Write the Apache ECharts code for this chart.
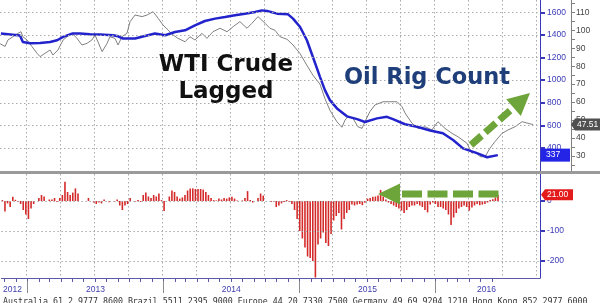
<!DOCTYPE html>
<html><head><meta charset="utf-8">
<script src="https://cdn.jsdelivr.net/npm/echarts@6/dist/echarts.min.js"></script>
<style>html,body{margin:0;padding:0;background:#fff;overflow:hidden}#c{width:600px;height:303px}</style>
</head><body><div id="c"></div><script>
// x positions are in weeks since 1 Jan 2013
const rigWeeks = [-9.6,-2.3,-1.2,1.5,5.4,9.2,11.9,14.2,17.6,20.7,24.5,28.3,33.3,35.2,37.1,41.7,49.3,53.2,57,60.8,64.6,68.4,72.3,76.1,79.9,83.7,87.6,90.2,92.2,96,100.2,102.1,104.8,107.4,109.7,112.4,114.3,116.2,118.9,122.7,126.6,129.6,134.2,138,140.3,144.9,149.5,154.5,159.4,163.3,167.1,172.4,176.3,180.4];
const rigCount = [1413,1395,1338,1326,1329,1338,1353,1382,1412,1412,1406,1403,1397,1388,1368,1368,1412,1397,1426,1441,1485,1523,1544,1558,1573,1588,1602,1617,1611,1588,1582,1544,1470,1353,1205,1029,912,823,750,680,655,630,662,676,655,610,588,555,530,470,397,355,318,337];

const wtiWeeks = [-9.9,-8,-6.9,-5,-3.1,-1.9,-1.2,0.4,2.3,4.2,5.4,7.3,9.2,10.3,12.2,14.2,15.7,17.6,19.5,21.4,23.3,25.2,26.4,27.5,29.1,31,32.1,34,35.2,36.7,38.6,39.8,41.7,44.4,46.3,48.6,50.5,52.4,54.3,56.2,58.1,60.8,62.7,64.6,67.3,69.2,71.5,74.2,76.9,79.2,81.8,84.5,86.4,88.7,91.4,93.3,95.2,97.1,99.8,102.1,104.8,107.4,109.7,112.4,114.3,116.2,118.9,120.8,122,123.1,125,126.9,128.5,129.6,131.5,133.4,136.5,139.2,141.9,143.8,144.9,147.6,149.9,152.6,155.2,157.5,160.2,162.9,165.2,168.6,170.5,171.7,173.6,175.5,177.4,179.3,182,184.3,187,189.7,191.9,193.9];
const wtiLagged = [92.5,91,94.6,96.4,98.3,99.2,96.4,94.6,90.9,87.2,85.3,87.2,89,86.2,89,94.6,96.4,98.3,95.5,91.8,92.7,94.6,97.4,93.6,88.1,92.7,96.4,95.5,91.8,96.4,98.3,104.8,108.5,107.6,108.5,110.3,106.7,102.9,100.2,97.4,95.5,93.6,96.4,94.6,98.3,95.5,99.2,101.1,99.2,102,104.8,101.1,103.9,107.6,103.9,101.1,100,96.4,95,91.8,87,80.5,75,70,62,55.5,49,46,50,51.9,51,46.3,45.4,49.1,54.7,58.4,60.2,60.2,60.2,57.4,54,48.2,45.4,46.3,44.5,49.1,45.4,42.6,40.7,37.1,31.5,32.4,29.6,29.6,34.3,38,42.6,44.5,46.3,49.1,48.2,47.51];

// weekly change of rig count, first bar at changeFirstWeek
const changeFirstWeek = -9.57;
const rigChange = [
 3,-35,-8,-20,14,4,-3,-10,-30,-45,
 -60,-25,-10,0,10,20,15,0,5,5,
 10,-3,10,20,64,30,20,28,42,25,
 0,0,0,10,0,-5,-10,-5,-8,5,
 0,-4,0,-3,5,-15,-30,-15,-10,10,
 0,-2,3,-3,20,28,15,10,20,15,
 25,3,-33,0,15,35,30,15,8,12,
 20,35,42,42,40,40,40,38,30,20,
 10,3,2,8,5,10,8,12,14,8,
 2,0,2,10,33,3,-5,0,10,25,
 18,0,0,-3,-2,-20,-15,-8,-3,3,
 -3,-10,-30,-60,-100,-125,-155,-185,-190,-200,
 -255,-145,-125,-105,-140,-150,-110,-65,-50,-40,
 -95,-60,-40,-30,-12,-15,-12,-10,-14,-6,
 8,10,14,15,18,37,15,5,-5,-10,
 -15,-20,-25,-32,-40,-30,-20,-15,-15,-10,
 -15,-20,-30,-38,-12,-5,-10,-20,-20,-25,
 -30,-45,-80,-55,-40,-25,-20,-15,-20,-32,
 -22,-15,-10,-14,-12,-10,-5,3,6,12,21];

const rigTicks = [400, 600, 800, 1000, 1200, 1400, 1600];
const wtiTicks = [30, 40, 50, 60, 70, 80, 90, 100, 110];
const changeTicks = [-200, -100, 0];
const yearTickWeeks = [0, 52.14, 104.29, 156.43];
const yearLabelWeeks = [-5.7, 26.1, 78.2, 130.4, 176];
const yearLabels = ['2012','2013','2014','2015','2016'];
const footer = 'Australia 61 2 9777 8600 Brazil 5511 2395 9000 Europe 44 20 7330 7500 Germany 49 69 9204 1210 Hong Kong 852 2977 6000';

// axis extents (weeks since 1 Jan 2013, 13-week quarters)
const X_MIN = -9.94, X_MAX = 196.53;
const quarterWeeks = []; for (let w = 0; w < X_MAX - 1; w += 13) quarterWeeks.push(w);
const monthWeeks = [];
for (let m = -2; m < 42; m++) { const d = Date.UTC(2013, m, 1); const w = (d - Date.UTC(2013,0,1)) / 864e5 / 7; if (w > X_MIN && w < X_MAX) monthWeeks.push(+w.toFixed(3)); }
const wtiMinorTicks = []; for (let v = 25; v <= 115; v += 5) wtiMinorTicks.push(v);

const BLUE = '#2323cc', AXISBLUE = '#3a3ab8', GREEN = '#6ea53a';
const dotted = {color:'#aaaaaa', type:[1.5,2.5], width:1};
const FONT = '"Liberation Sans", Arial, sans-serif';

const chart = echarts.init(document.getElementById('c'), null, {renderer:'canvas'});

const hLines = (vals) => ({
  silent:true, symbol:['none','none'], label:{show:false}, lineStyle:dotted, animation:false,
  data: vals.map(v => ({yAxis:v}))
});

const option = {
  animation:false,
  textStyle:{fontFamily:FONT},
  grid:[
    {left:0, right:60, top:0, height:171},
    {left:0, right:60, top:174, height:104}
  ],
  xAxis:[
    {type:'value', gridIndex:0, min:X_MIN, max:X_MAX,
      axisLine:{show:false, onZero:false}, axisTick:{show:false}, axisLabel:{show:false}, splitLine:{show:false}},
    {type:'value', gridIndex:1, min:X_MIN, max:X_MAX,
      axisLine:{show:true, onZero:false, lineStyle:{color:'#5a5aa8', width:1}},
      axisTick:{show:true, customValues:monthWeeks, length:4, lineStyle:{color:'#5a5aa8'}},
      axisLabel:{show:false}, splitLine:{show:false}},
    {type:'value', gridIndex:1, min:X_MIN, max:X_MAX, position:'bottom', offset:3,
      axisLine:{show:false, onZero:false}, splitLine:{show:false},
      axisTick:{show:true, customValues:yearTickWeeks, length:12, lineStyle:{color:'#8a8a8a'}},
      axisLabel:{show:true, customValues:yearLabelWeeks, margin:4, fontSize:8.5, color:'#3c3cb0',
        formatter:(v)=>{let b=0;for(let i=1;i<yearLabelWeeks.length;i++){if(Math.abs(yearLabelWeeks[i]-v)<Math.abs(yearLabelWeeks[b]-v))b=i;}return yearLabels[b];}}}
  ],
  yAxis:[
    {type:'value', gridIndex:0, position:'right', min:196.6, max:1708.8,
      axisLine:{show:true, onZero:false, lineStyle:{color:AXISBLUE}},
      axisTick:{show:true, customValues:rigTicks, length:5, lineStyle:{color:AXISBLUE, width:2}},
      axisLabel:{show:true, customValues:rigTicks, color:AXISBLUE, fontSize:8.5, margin:7, formatter:(v)=>String(v)},
      splitLine:{show:false}},
    {type:'value', gridIndex:0, position:'right', offset:31, min:21.65, max:116.85,
      axisLine:{show:true, onZero:false, lineStyle:{color:'#808080'}},
      axisTick:{show:true, customValues:wtiMinorTicks, length:4, lineStyle:{color:'#808080'}},
      axisLabel:{show:true, customValues:wtiTicks, color:'#454545', fontSize:8.5, margin:5, formatter:(v)=>String(v)},
      splitLine:{show:false}},
    {type:'value', gridIndex:1, position:'right', min:-256.67, max:90,
      axisLine:{show:true, onZero:false, lineStyle:{color:AXISBLUE}},
      axisTick:{show:true, customValues:changeTicks, length:5, lineStyle:{color:AXISBLUE, width:2}},
      axisLabel:{show:true, customValues:changeTicks, color:AXISBLUE, fontSize:8.5, margin:7, formatter:(v)=>String(v)},
      splitLine:{show:false}}
  ],
  series:[
    {type:'line', name:'WTI Crude Lagged', xAxisIndex:0, yAxisIndex:1, symbol:'none',
      lineStyle:{color:'#808080', width:1}, data:wtiWeeks.map((w,i)=>[w, wtiLagged[i]]), z:2},
    {type:'line', name:'Oil Rig Count', xAxisIndex:0, yAxisIndex:0, symbol:'none',
      lineStyle:{color:BLUE, width:2.5}, data:rigWeeks.map((w,i)=>[w, rigCount[i]]), z:3,
      markLine:hLines(rigTicks)},
    {type:'bar', name:'Rig change', xAxisIndex:1, yAxisIndex:2, barWidth:1.6,
      itemStyle:{color:'#d42a2a'}, data:rigChange.map((v,i)=>[changeFirstWeek+i, v]),
      markLine:hLines(changeTicks)}
  ],
  graphic:[
    {type:'rect', id:'sep', shape:{x:0, y:171, width:600, height:3}, style:{fill:'#9a9a9a'}, z:50},
    {type:'text', id:'t1', x:226, y:65.5, z:60, style:{text:'WTI Crude', font:'bold 23px "DejaVu Sans", Verdana, sans-serif', fill:'#111', align:'center', verticalAlign:'middle', textAlign:'center', textVerticalAlign:'middle'}},
    {type:'text', id:'t2', x:226, y:92.5, z:60, style:{text:'Lagged', font:'bold 23px "DejaVu Sans", Verdana, sans-serif', fill:'#111', align:'center', verticalAlign:'middle', textAlign:'center', textVerticalAlign:'middle'}},
    {type:'text', id:'t3', x:427, y:78.5, z:60, style:{text:'Oil Rig Count', font:'bold 22.5px "DejaVu Sans", Verdana, sans-serif', fill:'#1e3f7a', align:'center', verticalAlign:'middle', textAlign:'center', textVerticalAlign:'middle'}},
    {type:'line', id:'a1', z:60, shape:{x1:471, y1:145, x2:513.5, y2:107.6}, style:{stroke:GREEN, lineWidth:7, lineDash:[14,5]}},
    {type:'polygon', id:'a1h', z:60, shape:{points:[[530,93],[520.8,115.9],[506.2,99.3]]}, style:{fill:GREEN}},
    {type:'line', id:'a2', z:60, shape:{x1:402, y1:194, x2:500, y2:194}, style:{stroke:GREEN, lineWidth:7, lineDash:[20,5.5]}},
    {type:'polygon', id:'a2h', z:60, shape:{points:[[378,194],[400,183.5],[400,204.5]]}, style:{fill:GREEN}},
    {type:'text', id:'foot', x:3, y:297.5, z:60, style:{text:footer, font:'8.3px "DejaVu Sans Mono", monospace', fill:'#333', align:'left', verticalAlign:'top', textAlign:'left', textVerticalAlign:'top'}}
  ]
};
chart.setOption(option);

// quarterly vertical grid lines, placed through the x axis
const vGrid = [];
quarterWeeks.forEach((w, k) => {
  const x = Math.round(chart.convertToPixel({xAxisIndex:0}, w)) + 0.5;
  vGrid.push({type:'line', id:'vg0_'+k, z:1, silent:true, shape:{x1:x, y1:0, x2:x, y2:171}, style:{stroke:'#aaaaaa', lineWidth:1, lineDash:[1.5,2.5]}});
  vGrid.push({type:'line', id:'vg1_'+k, z:1, silent:true, shape:{x1:x, y1:174, x2:x, y2:278}, style:{stroke:'#aaaaaa', lineWidth:1, lineDash:[1.5,2.5]}});
});

// value tags at the right, tied to the last values through the axes
const lastRig = rigCount[rigCount.length-1];
const lastWti = wtiLagged[wtiLagged.length-1];
const lastChg = rigChange[rigChange.length-1];
const yR = chart.convertToPixel({yAxisIndex:0}, lastRig);
const yW = chart.convertToPixel({yAxisIndex:1}, lastWti);
const yC = chart.convertToPixel({yAxisIndex:2}, lastChg);
const tagText = (id, x, y, txt) => ({type:'text', id, x, y, z:71, style:{text:txt, font:'8.5px "Liberation Sans", Arial, sans-serif', fill:'#fff', align:'left', verticalAlign:'middle', textAlign:'left', textVerticalAlign:'middle'}});
chart.setOption({graphic: vGrid.concat([
  {type:'rect', id:'rb', z:70, shape:{x:541, y:yR-6.5, width:29, height:13}, style:{fill:'#2424e6'}},
  tagText('rt', 546, yR, String(lastRig)),
  {type:'polygon', id:'wb', z:70, shape:{points:[[571,yW],[575,yW-6],[600,yW-6],[600,yW+6],[575,yW+6]]}, style:{fill:'#505050'}},
  tagText('wt', 577, yW, lastWti.toFixed(2)),
  {type:'polygon', id:'cb', z:70, shape:{points:[[541,yC],[545,yC-5.5],[573,yC-5.5],[573,yC+5.5],[545,yC+5.5]]}, style:{fill:'#e41b1b'}},
  tagText('ct', 547, yC, lastChg.toFixed(2))
])});
</script></body></html>
